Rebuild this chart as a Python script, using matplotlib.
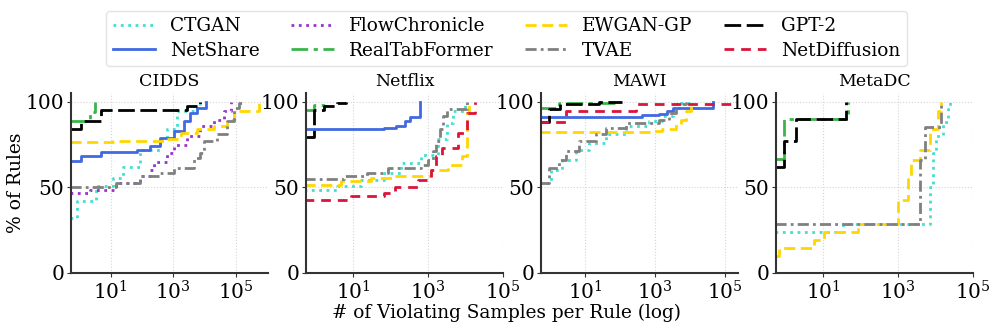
import numpy as np
import matplotlib
matplotlib.use("Agg")
import matplotlib.pyplot as plt

plt.rcParams['font.family'] = ['DejaVu Serif']
plt.rcParams['mathtext.fontset'] = 'dejavuserif'

# ECDF step data: model -> (x = # violating samples, y = % of rules)
datasets = ["CIDDS", "Netflix", "MAWI", "MetaDC"]
models = ["CTGAN", "NetShare", "FlowChronicle", "RealTabFormer",
          "EWGAN-GP", "TVAE", "GPT-2", "NetDiffusion"]

cidds = {
    "CTGAN": ([0.5, 0.8, 3.45, 12, 25, 86, 380, 620, 1320, 4550, 7400],
              [32, 42, 50.6, 55.5, 62, 72, 78, 84, 94.5, 96.5, 100]),
    "NetShare": ([0.5, 1.13, 5, 67, 180, 380, 1030, 2150, 3530, 5800, 10700],
                 [65.6, 68, 70.5, 72, 74, 79, 83, 88.7, 93.6, 96.5, 100]),
    "FlowChronicle": ([0.5, 2.1, 15, 86, 180, 232, 620, 1030, 2750, 7400, 20000, 41500, 69000],
                      [46.7, 48.6, 52.5, 56.4, 60.4, 65, 70, 75, 80, 85.7, 89.6, 94.5, 100]),
    "RealTabFormer": ([0.5, 2.1, 3.2], [89, 94, 100]),
    "EWGAN-GP": ([0.5, 12, 490, 1700, 5800, 20000, 53000, 88000, 560000],
                 [76.5, 77, 78, 82, 84, 86, 89.6, 94.5, 100]),
    "TVAE": ([0.5, 15, 86, 380, 1030, 4550, 7400, 9500, 25500, 53000, 88000, 127000, 160000],
             [50.2, 52.5, 56.4, 58.4, 61.3, 67, 70, 77, 81, 88.7, 96.5, 99.4, 100]),
    "GPT-2": ([0.5, 1.13, 5, 2750, 7400], [84, 89, 95, 97.5, 100]),
}

netflix = {
    "CTGAN": ([0.5, 3.8, 16, 68, 190, 660, 1860, 3100, 4700, 9800],
              [48.6, 51, 54.5, 58.4, 64, 69, 78, 87.7, 94.5, 100]),
    "NetShare": ([0.5, 68, 140, 235, 320, 600], [83.8, 84.8, 85.7, 88.7, 91.2, 100]),
    "RealTabFormer": ([0.5, 0.89, 1.8], [95, 98, 100]),
    "EWGAN-GP": ([0.5, 4.7, 30, 127, 1230, 3450, 7900, 10800, 12000],
                 [51.5, 53.5, 55.5, 56.4, 60.4, 63.3, 68, 93.6, 100]),
    "TVAE": ([0.5, 5.7, 24, 84, 660, 1000, 1350, 1670, 2050, 2530, 3100, 10800],
             [55, 56.4, 58.4, 61.3, 63, 66, 71, 77, 83.8, 91.6, 96, 100]),
    "GPT-2": ([0.5, 0.89, 1.66, 3.8, 6.3], [79.5, 95, 97.6, 99.4, 100]),
    "NetDiffusion": ([0.5, 8.7, 68, 127, 535, 1230, 1670, 2290, 6400, 10800, 18000],
                     [42.4, 44.7, 46.7, 50.2, 54.5, 60.4, 68, 73, 81.8, 93.6, 100]),
}

mawi = {
    "CTGAN": ([0.5, 1.05, 2.2, 5.4, 13, 39, 145, 675, 1610, 3150, 4900, 11700],
              [52.5, 60.4, 66.2, 72, 76, 81, 85.7, 88.7, 91.6, 96.5, 99, 100]),
    "NetShare": ([0.5, 435, 1290, 2240, 3150, 44000], [91.2, 92, 92.6, 94.5, 96.5, 100]),
    "RealTabFormer": ([0.5, 1.8, 67], [96.5, 99.4, 100]),
    "EWGAN-GP": ([0.5, 840, 1610, 3900, 5400, 7500, 10500],
                 [82.4, 83, 83.8, 86.7, 89.6, 94.5, 100]),
    "TVAE": ([0.5, 0.93, 1.8, 2.8, 6.7, 20, 39, 145, 1290, 2500, 3900, 7500],
             [52.5, 61.3, 66.2, 71, 77, 81, 84.8, 87.7, 89.6, 93.6, 98.4, 100]),
    "GPT-2": ([0.5, 0.93, 2, 25, 116], [88, 95.5, 98.4, 99.8, 100]),
    "NetDiffusion": ([0.5, 2.8, 280, 200000], [88, 94.5, 98.8, 100]),
}

metadc = {
    "CTGAN": ([0.5, 33, 6900, 8500, 10500, 15800, 21500, 24000],
              [24, 28.5, 50, 70, 80, 88, 95.5, 100]),
    "RealTabFormer": ([0.5, 0.9, 45], [66.6, 90, 100]),
    "EWGAN-GP": ([0.5, 0.66, 5.7, 10.6, 83, 980, 1820, 2240, 3730, 6900, 11600, 14200],
                 [9.6, 14.5, 19.3, 23.6, 28.5, 42.8, 56.4, 66.2, 71.5, 83.8, 94.5, 100]),
    "TVAE": ([0.5, 3730, 5100, 14200], [28.5, 66, 85.5, 100]),
    "GPT-2": ([0.5, 0.9, 1.86, 40], [62, 77, 90, 100]),
}

xlims = [(0.53, 1.07e6), (0.55, 1e5), (0.56, 2.3e5), (0.54, 1e5)]

colors = {"CTGAN": "turquoise", "NetShare": "royalblue", "FlowChronicle": "darkorchid",
          "RealTabFormer": "#3cb44b", "EWGAN-GP": "gold", "TVAE": "gray",
          "GPT-2": "black", "NetDiffusion": "crimson"}
styles = {"CTGAN": ":", "NetShare": "-", "FlowChronicle": ":",
          "RealTabFormer": (0, (6, 2, 1.5, 2)), "EWGAN-GP": (0, (4, 2)),
          "TVAE": (0, (4, 1.5, 1, 1.5)), "GPT-2": (0, (6, 2)),
          "NetDiffusion": (0, (3.5, 2.5))}

fig, axes = plt.subplots(1, 4, figsize=(9.97, 3.28), dpi=100)
fig.subplots_adjust(left=0.0712, right=0.976, bottom=0.168, top=0.716, wspace=0.193)

handles = {}
for ax, name, data, lim in zip(axes, datasets, [cidds, netflix, mawi, metadc], xlims):
    for m in models:
        if m not in data:
            continue
        xs, ys = data[m]
        ln, = ax.step(xs, ys, where='post', color=colors[m], linestyle=styles[m],
                      linewidth=2, label=m)
        handles[m] = ln
    ax.set_xscale('log')
    ax.set_xlim(*lim)
    ax.set_ylim(0, 105)
    ax.set_xticks([1e1, 1e3, 1e5])
    ax.xaxis.set_minor_locator(matplotlib.ticker.NullLocator())
    ax.set_yticks([0, 50, 100])
    ax.tick_params(labelsize=14.5, length=3, color='#333333', pad=2)
    ax.grid(True, linestyle=':', color='#d5d5d5', linewidth=0.8)
    for s in ['top', 'right']:
        ax.spines[s].set_visible(False)
    for s in ['left', 'bottom']:
        ax.spines[s].set_linewidth(1.5)
        ax.spines[s].set_color('#333333')
    ax.set_title(name, fontsize=12.5, pad=5)

fig.text(0.016, 0.442, '% of Rules', rotation=90, ha='center', va='center', fontsize=13.5)
fig.text(0.508, 0.03, '# of Violating Samples per Rule (log)', ha='center', fontsize=13.3)

fig.legend([handles[m] for m in models], models, loc='upper center',
           bbox_to_anchor=(0.508, 0.995), ncol=4, fontsize=13.3,
           handlelength=2.3, handletextpad=0.8, columnspacing=1.7,
           labelspacing=0.35, borderpad=0.35, frameon=True, edgecolor='#dddddd')

fig.savefig('out.png', dpi=100)
